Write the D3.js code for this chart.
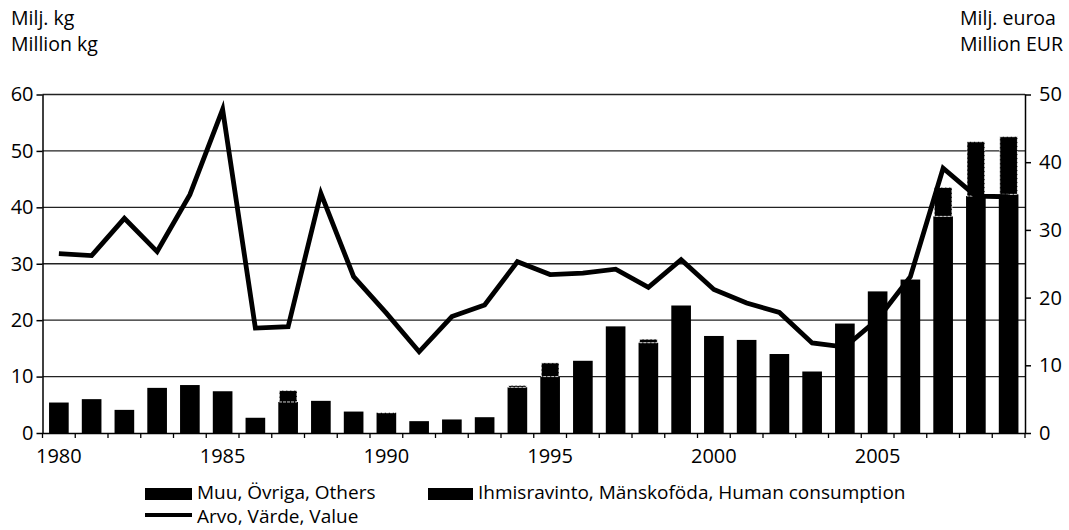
<!DOCTYPE html>
<html><head><meta charset="utf-8">
<script src="https://cdn.jsdelivr.net/npm/d3@7"></script>
<style>
html,body{margin:0;padding:0;background:#fff;}
svg{display:block;font-family:"Open Sans",sans-serif;}
</style></head>
<body><svg id="c" width="1069" height="530"></svg>
<script>
const years = d3.range(1980, 2010);
const human = [5.4,6.0,4.1,8.0,8.5,7.4,2.7,5.5,5.7,3.8,3.6,2.1,2.4,2.8,8.1,10.0,12.8,18.9,16.0,22.6,17.2,16.5,14.0,10.9,19.4,25.1,27.2,38.4,42.0,42.3];
const others = [0,0,0,0,0,0,0,2.2,0,0,0.2,0,0,0,0.5,2.6,0,0,0.8,0,0,0,0,0,0,0,0,5.3,9.8,10.4];
const value = [26.5,26.2,31.7,26.8,35.2,47.8,15.5,15.7,35.4,23.1,17.7,12.0,17.2,18.9,25.3,23.4,23.6,24.2,21.5,25.6,21.2,19.2,17.8,13.3,12.7,16.8,23.1,39.1,35.0,34.9];
const leftTicks = [0,10,20,30,40,50,60];
const rightTicks = [0,10,20,30,40,50];
const xLabels = [1980,1985,1990,1995,2000,2005];
const legendLabels = ["Muu, Övriga, Others","Ihmisravinto, Mänskoföda, Human consumption","Arvo, Värde, Value"];

const svg = d3.select("#c");
const L = 42.5, R = 1025, T = 94.5, B = 433;
const xb = d3.scaleBand().domain(years).range([L, R]).paddingInner(0.4).paddingOuter(0.2);
const yL = d3.scaleLinear().domain([0, 60]).range([B, T]);
const yR = d3.scaleLinear().domain([0, 50]).range([B, T]);

// titles
const tfs = 19.5;
svg.append("text").attr("x", 11).attr("y", 25).attr("font-size", tfs).text("Milj. kg");
svg.append("text").attr("x", 11).attr("y", 51).attr("font-size", tfs).text("Million kg");
svg.append("text").attr("x", 960).attr("y", 25).attr("font-size", tfs).text("Milj. euroa");
svg.append("text").attr("x", 960).attr("y", 51).attr("font-size", tfs).text("Million EUR");

// gridlines
svg.append("g").selectAll("line").data(leftTicks.filter(d => d > 0)).join("line")
  .attr("x1", L).attr("x2", R).attr("y1", d => yL(d)).attr("y2", d => yL(d))
  .attr("stroke", "#222").attr("stroke-width", 1.3);

// bars
const g = svg.append("g");
g.selectAll("rect.h").data(years).join("rect").attr("class", "h")
  .attr("x", d => xb(d)).attr("width", xb.bandwidth())
  .attr("y", (d, i) => yL(human[i])).attr("height", (d, i) => B - yL(human[i]))
  .attr("fill", "#000");
g.selectAll("rect.o").data(years.filter((d, i) => others[i] > 0)).join("rect").attr("class", "o")
  .attr("x", d => xb(d) + 1).attr("width", xb.bandwidth() - 2)
  .attr("y", d => { const i = years.indexOf(d); return yL(human[i] + others[i]) + 1; })
  .attr("height", d => { const i = years.indexOf(d); return Math.max(0, yL(human[i]) - yL(human[i] + others[i]) - 1); })
  .attr("fill", "#000").attr("stroke", "#fff").attr("stroke-width", 0.8).attr("stroke-dasharray", "3,1");

// line
const line = d3.line().x((d, i) => xb(years[i]) + xb.bandwidth() / 2).y(d => yR(d));
svg.append("path").datum(value).attr("d", line)
  .attr("fill", "none").attr("stroke", "#000").attr("stroke-width", 4.8).attr("stroke-linejoin", "miter");

// axes
const axL = svg.append("g").attr("transform", `translate(${L},0)`)
  .call(d3.axisLeft(yL).tickValues(leftTicks).tickSize(6).tickPadding(3));
const axR = svg.append("g").attr("transform", `translate(${R},0)`)
  .call(d3.axisRight(yR).tickValues(rightTicks).tickSize(6).tickPadding(8));
// category ticks at band boundaries, labels at band centres
const axB = svg.append("g").attr("transform", `translate(0,${B})`);
axB.append("path").attr("d", `M${L},0.5H${R}`).attr("stroke", "#000").attr("stroke-width", 1.5);
axB.selectAll("line.t").data(years.concat([2010])).join("line").attr("class", "t")
  .attr("x1", d => d < 2010 ? xb(d) - xb.step() * xb.paddingOuter() : R)
  .attr("x2", d => d < 2010 ? xb(d) - xb.step() * xb.paddingOuter() : R)
  .attr("y1", 0).attr("y2", 5).attr("stroke", "#000").attr("stroke-width", 1.3);
axB.selectAll("text").data(xLabels).join("text")
  .attr("x", d => xb(d) + xb.bandwidth() / 2).attr("y", 30)
  .attr("text-anchor", "middle").attr("font-size", 20).text(d => d);

[axL, axR].forEach(a => {
  a.selectAll("text").attr("font-size", 20).attr("font-family", "Open Sans, sans-serif").attr("fill", "#000");
  a.selectAll("line,path").attr("stroke", "#000").attr("stroke-width", 1.5);
});
axL.select(".domain").attr("d", `M0.5,${T}V${B}`);
axR.select(".domain").attr("d", `M0.5,${T}V${B}`);

// legend
const lfs = 19;
const lg = svg.append("g").attr("font-size", lfs);
lg.append("rect").attr("x", 145).attr("y", 488).attr("width", 47).attr("height", 12).attr("fill", "#000");
lg.append("text").attr("x", 197).attr("y", 499).text(legendLabels[0]);
lg.append("rect").attr("x", 428).attr("y", 488).attr("width", 45).attr("height", 12).attr("fill", "#000");
lg.append("text").attr("x", 478).attr("y", 499).text(legendLabels[1]);
lg.append("line").attr("x1", 145).attr("x2", 192).attr("y1", 515).attr("y2", 515).attr("stroke", "#000").attr("stroke-width", 4);
lg.append("text").attr("x", 197).attr("y", 523).text(legendLabels[2]);
</script></body></html>
